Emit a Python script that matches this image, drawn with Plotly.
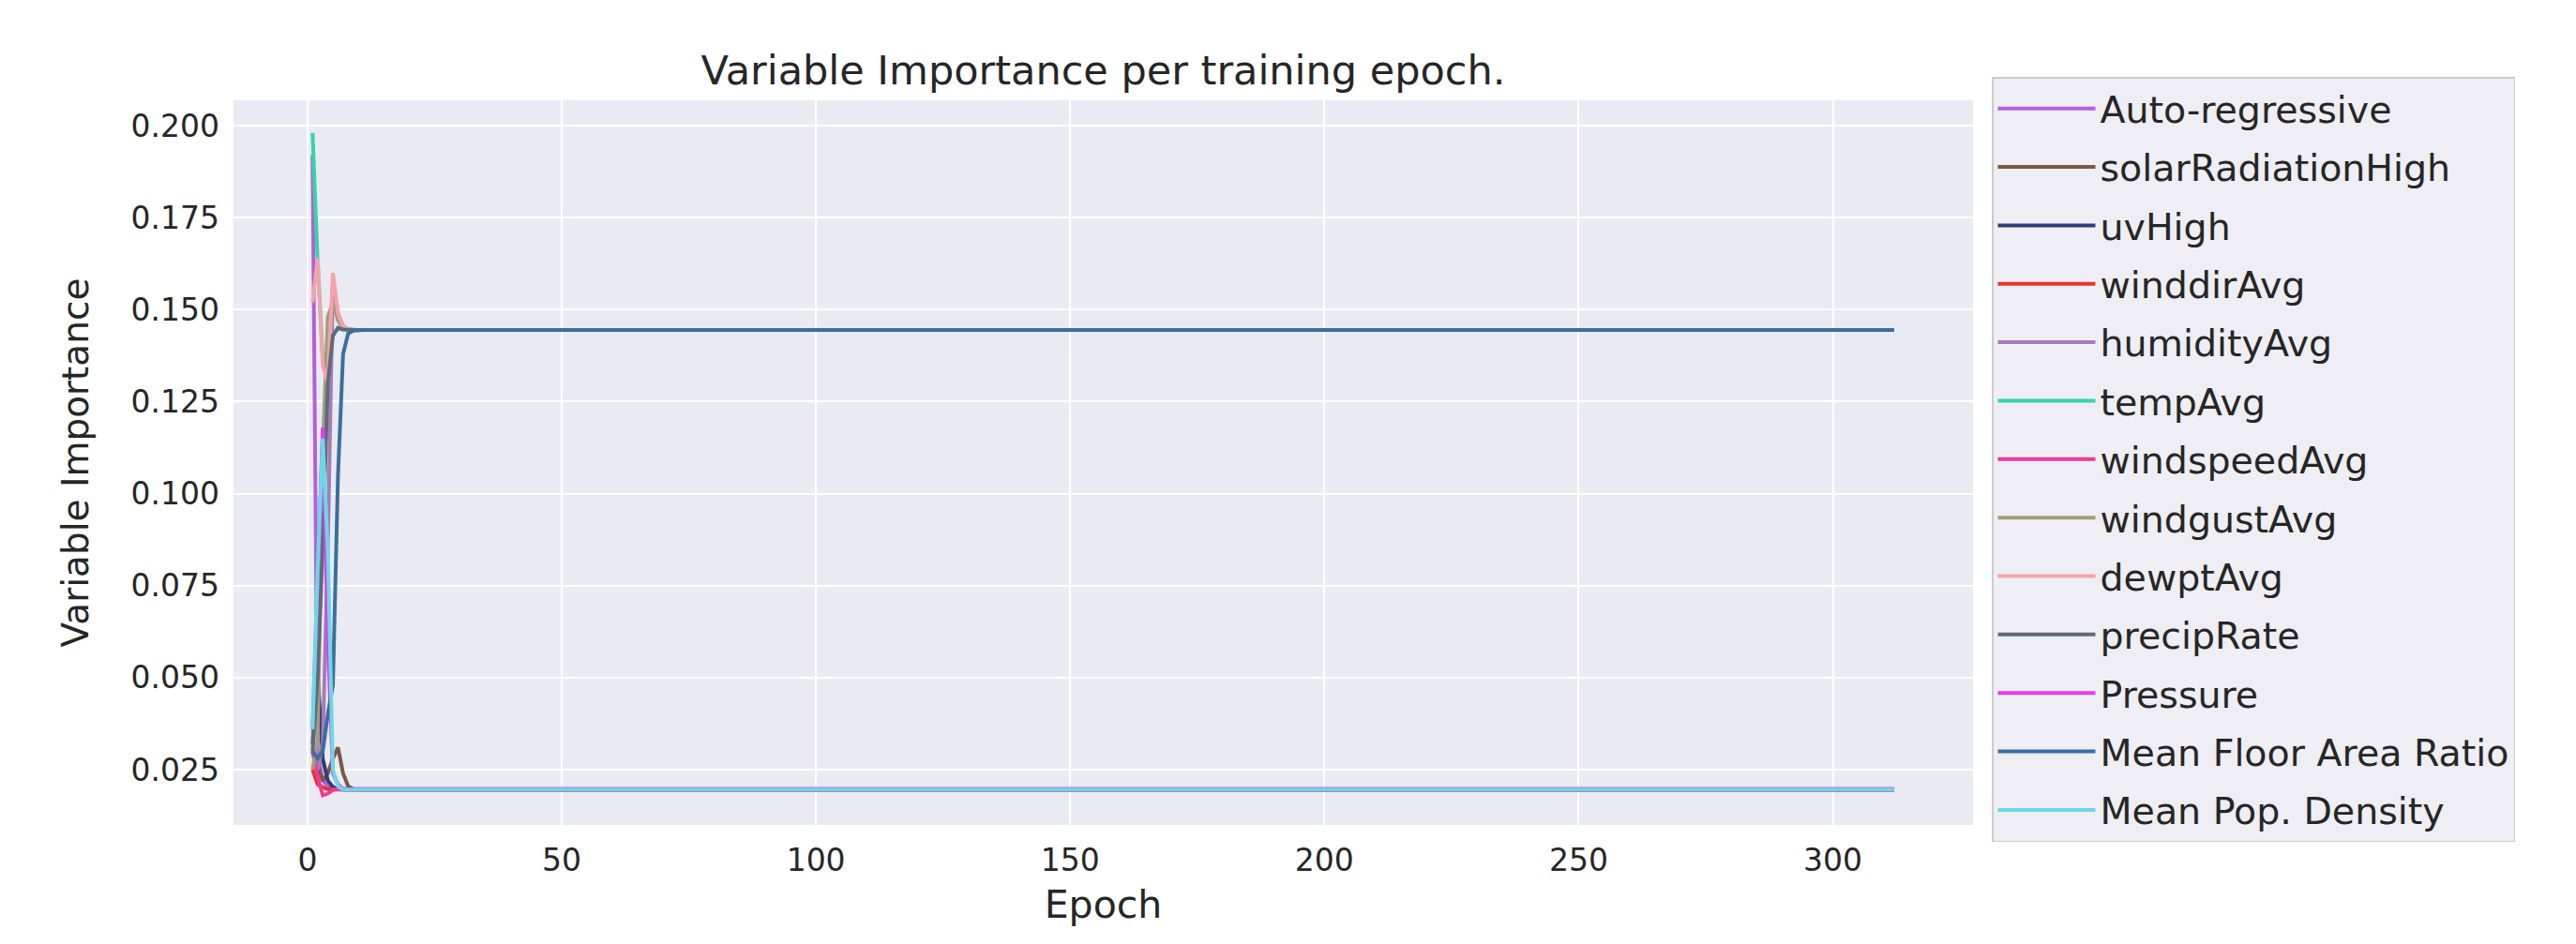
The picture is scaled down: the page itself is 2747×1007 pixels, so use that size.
import plotly.graph_objects as go

N_EPOCHS = 312
epochs = list(range(1, N_EPOCHS + 1))

# Early-epoch values (epochs 1..n); afterwards each series is flat.
auto_regressive = [0.192, 0.030, 0.022, 0.0205, 0.0198]
solar_radiation_high = [0.030, 0.026, 0.022, 0.024, 0.028, 0.031, 0.024, 0.0205, 0.0197]
uv_high = [0.032, 0.051, 0.028, 0.022, 0.0203, 0.0197]
winddir_avg = [0.025, 0.021, 0.0202, 0.0197]
humidity_avg = [0.030, 0.025, 0.032, 0.085, 0.158, 0.149, 0.1455, 0.1446]
temp_avg = [0.198, 0.163, 0.137, 0.133, 0.143, 0.1452, 0.1446]
windspeed_avg = [0.030, 0.023, 0.018, 0.0185, 0.0195, 0.0197]
windgust_avg = [0.025, 0.033, 0.112, 0.148, 0.152, 0.147, 0.1452, 0.1446]
dewpt_avg = [0.152, 0.164, 0.135, 0.130, 0.160, 0.149, 0.1456, 0.1447]
precip_rate = [0.030, 0.050, 0.086, 0.130, 0.143, 0.1450, 0.1446]
pressure = [0.036, 0.075, 0.118, 0.060, 0.024, 0.021, 0.0198]
mean_floor_area_ratio = [0.030, 0.028, 0.030, 0.040, 0.048, 0.105, 0.138, 0.1435, 0.1443, 0.1445]
mean_pop_density = [0.036, 0.080, 0.115, 0.085, 0.025, 0.0205, 0.0196]

# flat values reached after the first epochs
high_plateau = 0.1445
low_plateau_auto = 0.0198
low_plateau = 0.0196

series_names = ["Auto-regressive", "solarRadiationHigh", "uvHigh", "winddirAvg",
                "humidityAvg", "tempAvg", "windspeedAvg", "windgustAvg", "dewptAvg",
                "precipRate", "Pressure", "Mean Floor Area Ratio", "Mean Pop. Density"]
series_early = [auto_regressive, solar_radiation_high, uv_high, winddir_avg,
                humidity_avg, temp_avg, windspeed_avg, windgust_avg, dewpt_avg,
                precip_rate, pressure, mean_floor_area_ratio, mean_pop_density]
series_final = [low_plateau_auto, low_plateau, low_plateau, low_plateau,
                high_plateau, high_plateau, low_plateau, high_plateau, high_plateau,
                high_plateau, low_plateau, high_plateau, low_plateau]
series_colors = ["#b460d8", "#7b5744", "#323a78", "#e8302f", "#a77cb5", "#33d6a7",
                 "#ee3a99", "#a39e77", "#f3a3aa", "#5e6b7c", "#e23ef0", "#3b6fa0", "#6ad9e6"]

x_ticks = [0, 50, 100, 150, 200, 250, 300]
y_ticks = [0.025, 0.050, 0.075, 0.100, 0.125, 0.150, 0.175, 0.200]

FONT = "DejaVu Sans"
TXT = "#262626"

fig = go.Figure()
for i, (name, early, final, col) in enumerate(zip(series_names, series_early, series_final, series_colors)):
    ys = list(early) + [final] * (N_EPOCHS - len(early))
    fig.add_trace(go.Scatter(x=epochs, y=ys, mode="lines", name=name,
                             legendgroup=f"g{i:02d}",
                             line=dict(color=col, width=4)))

OFF = 8  # page body margin
W, H = 2747 - OFF, 1007 - OFF
L, T = 249 - OFF, 107 - OFF
R = W - (2104 - OFF)
B = H - (880 - OFF)
PH = H - T - B
PW = W - L - R
fig.update_layout(
    width=W, height=H,
    margin=dict(l=L, r=R, t=T, b=B, pad=0),
    paper_bgcolor="white",
    plot_bgcolor="#eaeaf2",
    font=dict(family=FONT, color=TXT, size=34),
    title=dict(text="Variable Importance per training epoch.", x=0.5, xref="paper",
               y=1 - (75 - OFF) / H, yref="container", yanchor="middle", xanchor="center",
               font=dict(size=43, family=FONT, color=TXT)),
    xaxis=dict(range=[-14.55, 327.55], tickvals=x_ticks, ticktext=[str(v) for v in x_ticks],
               showgrid=True, gridcolor="white", gridwidth=2, zeroline=False,
               showline=False, ticks="", ticklabelstandoff=15,
               title=dict(text="Epoch", font=dict(size=41), standoff=14),
               tickfont=dict(size=33)),
    yaxis=dict(range=[0.00997, 0.2069], tickvals=y_ticks, ticktext=[f"{v:.3f}" for v in y_ticks],
               showgrid=True, gridcolor="white", gridwidth=2, zeroline=False,
               showline=False, ticks="", ticklabelstandoff=14,
               title=dict(text="Variable Importance", font=dict(size=39), standoff=32),
               tickfont=dict(size=33)),
    legend=dict(x=1 + 20 / PW, xanchor="left", y=1 + 25 / PH, yanchor="top",
                bgcolor="#eeeef4", bordercolor="#cccccc", borderwidth=1.5,
                font=dict(size=39.5, family=FONT, color=TXT),
                tracegroupgap=8, itemwidth=104, traceorder="grouped",
                maxheight=1200),
    showlegend=True,
)

fig.write_html("out.html")
